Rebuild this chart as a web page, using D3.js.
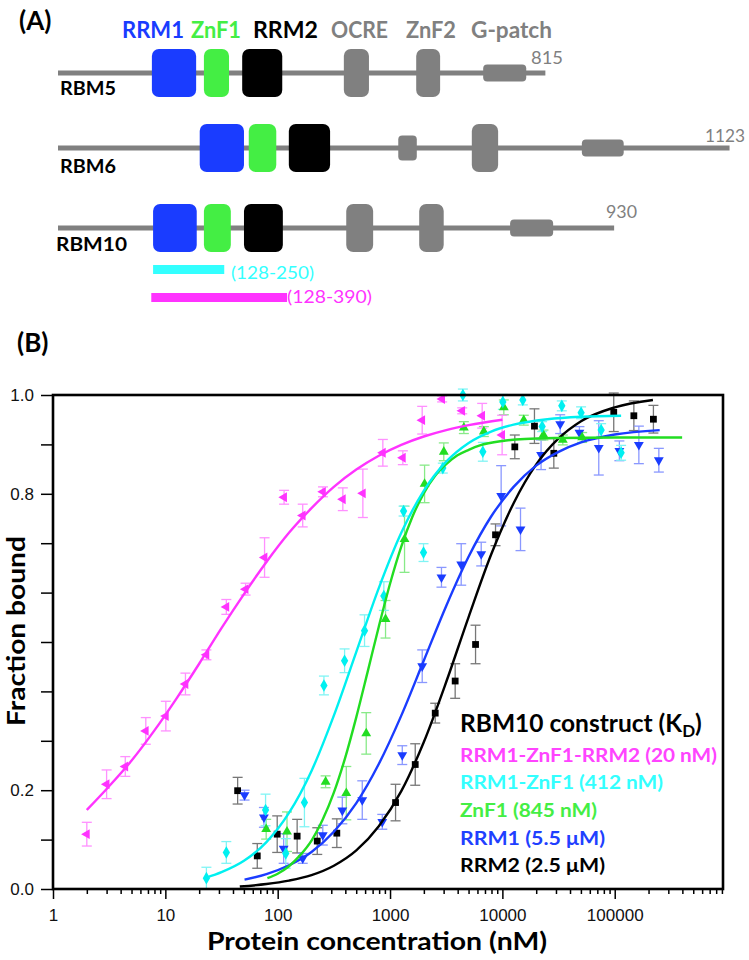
<!DOCTYPE html>
<html><head><meta charset="utf-8">
<script src="https://cdn.jsdelivr.net/npm/d3@7"></script>
<style>html,body{margin:0;padding:0;background:#fff}</style>
</head><body><div id="chart"></div>
<script>
// ---------- Panel A data ----------
const proteinNames = ["RBM5", "RBM6", "RBM10"];
const proteinLengths = [815, 1123, 930];
// domain boxes in residue-like units along the schematic
const domainProtein = [0,0,0,0,0,0, 1,1,1,1,1,1, 2,2,2,2,2,2];
const domainType = ["RRM1","ZnF1","RRM2","OCRE","ZnF2","Gpatch",
                    "RRM1","ZnF1","RRM2","OCREs","ZnF2","Gpatch",
                    "RRM1","ZnF1","RRM2","OCRE","ZnF2","Gpatch"];
const domainStart = [157,244,308,478,599,711, 237,319,386,569,692,876, 159,244,311,482,604,756];
const domainEnd   = [231,286,375,520,639,783, 311,365,455,600,736,946, 232,289,376,527,645,828];
const headerLabels = ["RRM1","ZnF1","RRM2","OCRE","ZnF2","G-patch"];
const constructLabels = ["(128-250)", "(128-390)"];
const constructStart = [159, 156];
const constructEnd = [278, 383];

// ---------- Panel B data ----------
const xTicks = [1, 10, 100, 1000, 10000, 100000];
const yTicks = [0, 0.2, 0.4, 0.6, 0.8, 1.0];
const yTickLabels = ["0.0", "0.2", "", "", "0.8", "1.0"];

const legendTitle = "RBM10 construct (K";
const legendLabels = ["RRM1-ZnF1-RRM2 (20 nM)", "RRM1-ZnF1 (412 nM)", "ZnF1 (845 nM)", "RRM1 (5.5 \u03bcM)", "RRM2 (2.5 \u03bcM)"];

// RRM1-ZnF1-RRM2 (magenta, left triangles)
const magConc = [2, 3.0, 4.4, 6.7, 10.1, 15.1, 23.2, 34.9, 51.8, 76.4, 114, 167, 253, 380, 573, 863, 1300, 1933, 2910, 4390, 6610, 9950];
const magFrac = [0.111, 0.212, 0.248, 0.320, 0.350, 0.415, 0.474, 0.571, 0.607, 0.671, 0.793, 0.756, 0.804, 0.789, 0.801, 0.883, 0.873, 0.949, 0.992, 0.968, 0.958, 0.919];
const magErr  = [0.024, 0.029, 0.020, 0.027, 0.030, 0.022, 0.010, 0.015, 0.012, 0.040, 0.014, 0.023, 0.010, 0.023, 0.049, 0.027, 0.014, 0.028, 0.006, 0.006, 0.025, 0.040];
const magFitConc = [2, 3.16, 5.01, 7.94, 12.6, 20, 31.6, 50.1, 79.4, 126, 200, 316, 501, 794, 1259, 1995, 3162, 5012, 10000];
const magFitFrac = [0.160, 0.208, 0.260, 0.320, 0.386, 0.456, 0.528, 0.597, 0.662, 0.721, 0.771, 0.814, 0.849, 0.877, 0.899, 0.916, 0.929, 0.939, 0.950];

// RRM1-ZnF1 (cyan, diamonds)
const cyaConc = [23.2, 34.9, 78, 118, 173, 258, 394, 593, 881, 1320, 1987, 2950, 4450, 6700, 10100, 15200, 22600, 33800, 50200, 75700, 114000];
const cyaFrac = [0.022, 0.074, 0.160, 0.072, 0.175, 0.412, 0.462, 0.523, 0.593, 0.765, 0.681, 0.852, 1.000, 0.885, 0.986, 0.990, 0.936, 0.978, 0.964, 0.929, 0.883];
const cyaErr  = [0.022, 0.022, 0.032, 0.030, 0.049, 0.019, 0.024, 0.032, 0.029, 0.010, 0.018, 0.010, 0.012, 0.019, 0.015, 0.010, 0.010, 0.010, 0.012, 0.013, 0.015];
const cyaFitConc = [23.2, 31.6, 50.1, 79.4, 126, 200, 316, 501, 794, 1259, 1995, 3162, 5012, 7943, 12589, 25119, 50119, 114000];
const cyaFitFrac = [0.023, 0.034, 0.057, 0.095, 0.154, 0.239, 0.351, 0.480, 0.609, 0.721, 0.806, 0.865, 0.903, 0.926, 0.940, 0.951, 0.956, 0.958];

// ZnF1 (green, up triangles)
const grnConc = [79, 121, 267, 408, 614, 912, 1346, 2030, 3010, 4540, 6840, 10300, 15500, 23200, 34500, 51300];
const grnFrac = [0.121, 0.116, 0.217, 0.194, 0.315, 0.546, 0.708, 0.820, 0.885, 0.934, 0.926, 0.975, 0.949, 0.919, 0.909, 0.914];
const grnErr  = [0.020, 0.040, 0.012, 0.054, 0.042, 0.038, 0.067, 0.038, 0.018, 0.012, 0.010, 0.015, 0.010, 0.010, 0.010, 0.010];
const grnFitConc = [81, 100, 126, 158, 200, 251, 316, 398, 501, 631, 794, 1000, 1259, 1585, 1995, 2512, 3162, 3981, 5012, 6310, 10000, 15849, 31623, 100000, 398107];
const grnFitFrac = [0.022, 0.031, 0.046, 0.068, 0.098, 0.140, 0.195, 0.265, 0.348, 0.439, 0.531, 0.618, 0.693, 0.754, 0.801, 0.836, 0.860, 0.878, 0.889, 0.898, 0.907, 0.911, 0.913, 0.914, 0.914];

// RRM1 (blue, down triangles)
const bluConc = [50.7, 75.4, 113, 167, 252, 376, 566, 853, 1285, 1934, 2870, 4300, 6480, 9750, 14500, 22100, 32700, 48500, 72100, 110000, 164000, 247000];
const bluFrac = [0.190, 0.145, 0.082, 0.062, 0.109, 0.159, 0.180, 0.136, 0.271, 0.451, 0.631, 0.657, 0.678, 0.796, 0.728, 0.879, 0.941, 0.924, 0.893, 0.887, 0.899, 0.868];
const bluErr  = [0.010, 0.020, 0.030, 0.010, 0.020, 0.027, 0.039, 0.015, 0.019, 0.033, 0.020, 0.042, 0.024, 0.061, 0.043, 0.030, 0.019, 0.012, 0.055, 0.020, 0.038, 0.024];
const bluFitConc = [50.7, 79.4, 126, 200, 316, 501, 794, 1259, 1995, 3162, 5012, 7943, 12589, 19953, 31623, 50119, 100000, 251189];
const bluFitFrac = [0.019, 0.030, 0.048, 0.075, 0.116, 0.174, 0.253, 0.351, 0.462, 0.573, 0.673, 0.754, 0.814, 0.857, 0.885, 0.904, 0.920, 0.929];

// RRM2 (black, squares)
const blkConc = [44, 65.8, 99, 149, 225, 336, 1120, 1676, 2525, 3800, 5770, 8690, 12900, 19300, 28700, 98000, 148000, 221000];
const blkFrac = [0.199, 0.067, 0.111, 0.107, 0.097, 0.113, 0.175, 0.252, 0.356, 0.421, 0.495, 0.717, 0.895, 0.937, 0.882, 0.965, 0.958, 0.951];
const blkErr  = [0.027, 0.025, 0.037, 0.034, 0.027, 0.029, 0.037, 0.042, 0.020, 0.035, 0.039, 0.022, 0.024, 0.035, 0.030, 0.039, 0.030, 0.028];
const blkFitConc = [46, 79.4, 126, 200, 316, 501, 794, 1259, 1995, 3162, 5012, 7943, 12589, 19953, 31623, 50119, 100000, 218776];
const blkFitFrac = [0.005, 0.010, 0.017, 0.028, 0.047, 0.078, 0.127, 0.198, 0.297, 0.419, 0.551, 0.677, 0.781, 0.859, 0.912, 0.947, 0.975, 0.990];

// ---------- drawing ----------
const W = 749, H = 960;
const svg = d3.select("#chart").append("svg").attr("width", W).attr("height", H)
  .style("font-family", "Lato, 'Open Sans', sans-serif");

const GRAY = "#808080";
const domainColor = {RRM1: "#1a3cff", ZnF1: "#44ee44", RRM2: "#000000", OCRE: GRAY, OCREs: GRAY, ZnF2: GRAY, Gpatch: GRAY};
const domainHeight = {RRM1: 48, ZnF1: 48, RRM2: 48, OCRE: 48, OCREs: 25, ZnF2: 48, Gpatch: 17};
const headerColors = ["#1a3cff", "#44ee44", "#000000", GRAY, GRAY, GRAY];

// panel labels
svg.append("text").attr("x", 19).attr("y", 30).attr("font-size", 26).attr("font-weight", "bold").text("(A)");
svg.append("text").attr("x", 17).attr("y", 352).attr("font-size", 26).attr("font-weight", "bold").text("(B)");

// Panel A
const gA = svg.append("g");
const xs = d3.scaleLinear().domain([0, 1123]).range([58, 58 + 1123 * 0.598]);
const rowY = [73, 148, 228];

const headerX = [122, 191, 253, 331, 406, 471];
const headerW = [62, 50, 65, 57, 50, 81];
headerLabels.forEach((t, i) => {
  gA.append("text").attr("x", headerX[i]).attr("y", 38).attr("font-size", 22).attr("font-weight", "bold")
    .attr("fill", headerColors[i]).attr("textLength", headerW[i]).attr("lengthAdjust", "spacingAndGlyphs").text(t);
});

const nameX = [60, 60, 56], nameY = [95, 173, 251], nameW = [56, 56, 71];
const lenX = [531, 705, 606], lenY = [64, 142, 218], lenW = [32, 40, 31];
proteinNames.forEach((p, i) => {
  gA.append("line").attr("x1", xs(0)).attr("x2", xs(proteinLengths[i]))
    .attr("y1", rowY[i]).attr("y2", rowY[i]).attr("stroke", GRAY).attr("stroke-width", 5);
  gA.append("text").attr("x", nameX[i]).attr("y", nameY[i]).attr("font-size", 19).attr("font-weight", "bold")
    .attr("textLength", nameW[i]).attr("lengthAdjust", "spacingAndGlyphs").text(p);
  gA.append("text").attr("x", lenX[i]).attr("y", lenY[i]).attr("font-size", 17).attr("fill", GRAY)
    .attr("textLength", lenW[i]).attr("lengthAdjust", "spacingAndGlyphs").text(proteinLengths[i]);
});
domainType.forEach((t, i) => {
  const h = domainHeight[t];
  const y0 = rowY[domainProtein[i]] - h / 2;
  gA.append("rect").attr("x", xs(domainStart[i])).attr("width", xs(domainEnd[i]) - xs(domainStart[i]))
    .attr("y", y0).attr("height", h).attr("rx", h > 30 ? 7 : 4).attr("fill", domainColor[t]);
});
const constructColors = ["#33ffff", "#ff33ff"];
const constructY = [269.5, 297.5];
const constructLabelX = [231, 287], constructLabelY = [279, 303], constructLabelW = [83, 85];
constructLabels.forEach((t, i) => {
  gA.append("rect").attr("x", xs(constructStart[i])).attr("width", xs(constructEnd[i]) - xs(constructStart[i]))
    .attr("y", constructY[i] - 4.5).attr("height", 9).attr("fill", constructColors[i]);
  gA.append("text").attr("x", constructLabelX[i]).attr("y", constructLabelY[i]).attr("font-size", 18)
    .attr("fill", constructColors[i]).attr("textLength", constructLabelW[i]).attr("lengthAdjust", "spacingAndGlyphs").text(t);
});

// Panel B
const L = 53, R = 723, T = 395, B = 889;
const x = d3.scaleLog().domain([1, 9.2e5]).range([L, R]);
const y = d3.scaleLinear().domain([0, 1]).range([B, T]);
const gB = svg.append("g");

// axes
const minorX = [];
for (let e = 0; e < 6; e++) for (let m = 2; m <= 9; m++) { const v = m * Math.pow(10, e); if (v <= 9.2e5) minorX.push(v); }
const axX = gB.append("g").attr("transform", `translate(0,${B})`)
  .call(d3.axisBottom(x).tickValues(xTicks).tickFormat(d3.format("d")).tickSize(10).tickPadding(4));
const axXm = gB.append("g").attr("transform", `translate(0,${B})`)
  .call(d3.axisBottom(x).tickValues(minorX).tickFormat("").tickSize(5));
const axY = gB.append("g").attr("transform", `translate(${L},0)`)
  .call(d3.axisLeft(y).tickValues(yTicks).tickFormat((d, i) => yTickLabels[i]).tickSize(12).tickPadding(7));
const axYm = gB.append("g").attr("transform", `translate(${L},0)`)
  .call(d3.axisLeft(y).tickValues([0.1, 0.3, 0.5, 0.7, 0.9]).tickFormat("").tickSize(12));
[axX, axXm, axY, axYm].forEach(a => {
  a.select(".domain").remove();
  a.selectAll("line").attr("stroke", "#000").attr("stroke-width", 1.5);
  a.selectAll("text").attr("font-family", "'Liberation Sans', Arial, sans-serif").attr("font-size", 17).attr("fill", "#111");
});
axX.selectAll("text").attr("dy", "1.05em");

const series = [
  {conc: blkConc, frac: blkFrac, err: blkErr, fc: blkFitConc, ff: blkFitFrac, color: "#000000", ec: "#777777", shape: "square"},
  {conc: bluConc, frac: bluFrac, err: bluErr, fc: bluFitConc, ff: bluFitFrac, color: "#1a3cff", ec: "#8a98ff", shape: "down"},
  {conc: grnConc, frac: grnFrac, err: grnErr, fc: grnFitConc, ff: grnFitFrac, color: "#22dd22", ec: "#88ea88", shape: "up"},
  {conc: cyaConc, frac: cyaFrac, err: cyaErr, fc: cyaFitConc, ff: cyaFitFrac, color: "#00f0f0", ec: "#80f4f4", shape: "diamond"},
  {conc: magConc, frac: magFrac, err: magErr, fc: magFitConc, ff: magFitFrac, color: "#ff33ff", ec: "#ff90ff", shape: "left"}
];

const line = d3.line().x(d => x(d[0])).y(d => y(d[1])).curve(d3.curveMonotoneX);
const symPath = {
  square: d3.symbol().type(d3.symbolSquare).size(46)(),
  down: d3.symbol().type(d3.symbolTriangle).size(42)(),
  up: d3.symbol().type(d3.symbolTriangle).size(42)(),
  left: d3.symbol().type(d3.symbolTriangle).size(42)(),
  diamond: d3.symbol().type(d3.symbolDiamond).size(46)()
};
const symRot = {square: 0, down: 180, up: 0, left: -90, diamond: 0};

const gData = gB.append("g");
// error bars first
series.forEach(s => {
  const g = gData.append("g");
  s.conc.forEach((c, i) => {
    const cx = x(c), y1 = y(s.frac[i] + s.err[i]), y2 = y(s.frac[i] - s.err[i]);
    g.append("line").attr("x1", cx).attr("x2", cx).attr("y1", y1).attr("y2", y2).attr("stroke", s.ec).attr("stroke-width", 1.3);
    [y1, y2].forEach(yy => g.append("line").attr("x1", cx - 5).attr("x2", cx + 5).attr("y1", yy).attr("y2", yy)
      .attr("stroke", s.ec).attr("stroke-width", 1.3));
  });
});
// markers
series.forEach(s => {
  const g = gData.append("g");
  s.conc.forEach((c, i) => {
    g.append("path").attr("d", symPath[s.shape])
      .attr("transform", `translate(${x(c)},${y(s.frac[i])}) rotate(${symRot[s.shape]})`)
      .attr("fill", s.color);
  });
});
// fit curves
series.forEach(s => {
  gData.append("path").datum(s.fc.map((c, i) => [c, s.ff[i]])).attr("d", line)
    .attr("fill", "none").attr("stroke", s.color).attr("stroke-width", 2.4);
});

// frame
gB.append("rect").attr("x", L).attr("y", T).attr("width", R - L).attr("height", B - T)
  .attr("fill", "none").attr("stroke", "#000").attr("stroke-width", 2.6);

// axis titles
gB.append("text").attr("x", 207).attr("y", 950).attr("font-size", 24).attr("font-weight", "bold")
  .attr("textLength", 340).attr("lengthAdjust", "spacingAndGlyphs").text("Protein concentration (nM)");
gB.append("text").attr("transform", "translate(25,631) rotate(-90)").attr("text-anchor", "middle")
  .attr("font-size", 24).attr("font-weight", "bold").attr("textLength", 190).attr("lengthAdjust", "spacingAndGlyphs")
  .text("Fraction bound");

// legend
const lg = gB.append("g");
const t0 = lg.append("text").attr("x", 460).attr("y", 732).attr("font-size", 24.5).attr("font-weight", "bold");
t0.append("tspan").text(legendTitle);
t0.append("tspan").attr("font-size", 17).attr("dy", 5).text("D");
t0.append("tspan").attr("dy", -5).text(")");
const legColors = ["#ff44ff", "#33ffff", "#44ee44", "#1f40ff", "#000000"];
const legY = [762, 789, 817, 845, 872];
const legW = [257, 203, 137, 145, 145];
legendLabels.forEach((t, i) => {
  lg.append("text").attr("x", 460).attr("y", legY[i]).attr("font-size", 19).attr("font-weight", "bold")
    .attr("fill", legColors[i]).attr("textLength", legW[i]).attr("lengthAdjust", "spacingAndGlyphs").text(t);
});
</script></body></html>
